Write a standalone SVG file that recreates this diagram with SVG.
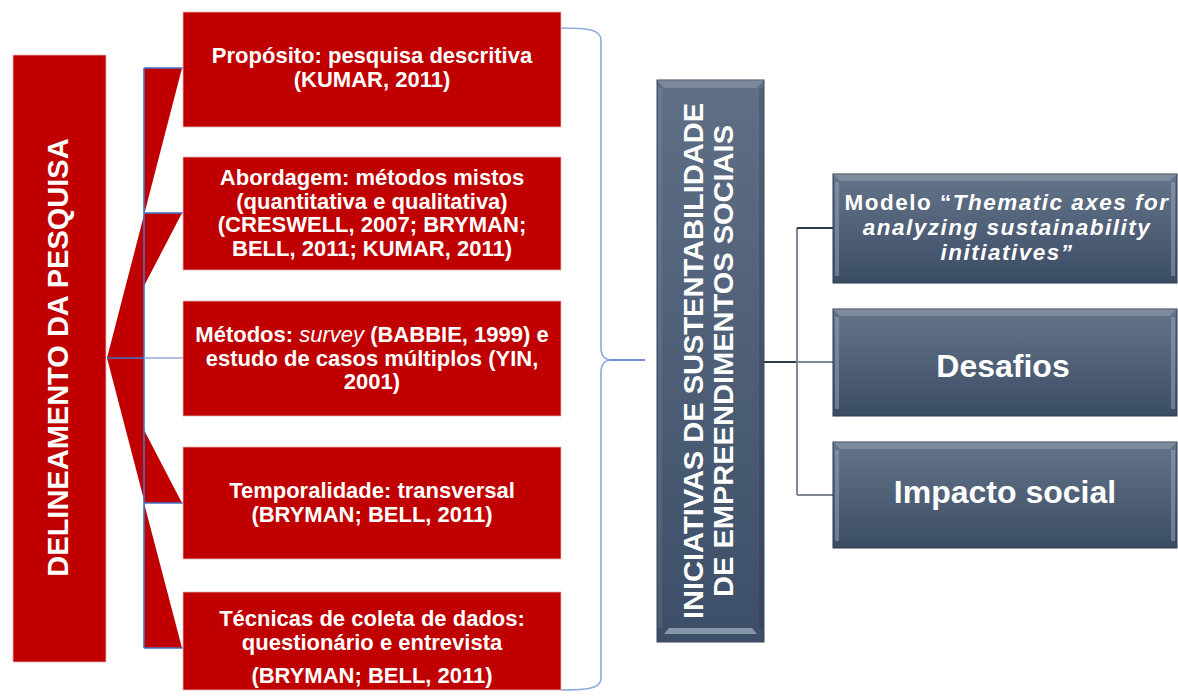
<svg xmlns="http://www.w3.org/2000/svg" width="1178" height="700" viewBox="0 0 1178 700">
<defs>
<linearGradient id="slate" x1="0" y1="0" x2="0" y2="1">
<stop offset="0" stop-color="#64748A"/>
<stop offset="1" stop-color="#3B4C65"/>
</linearGradient>
<linearGradient id="slateV" x1="0" y1="0" x2="0" y2="1">
<stop offset="0" stop-color="#5F6F86"/>
<stop offset="1" stop-color="#3D4E68"/>
</linearGradient>
<style>
.red{fill:#C00000;stroke:#E9B3B3;stroke-width:0.8}
.rt{font-family:"Liberation Sans",Arial,sans-serif;font-weight:bold;font-size:22px;fill:#fff;text-anchor:middle}
.bt{font-family:"Liberation Sans",Arial,sans-serif;font-weight:bold;fill:#fff;text-anchor:middle}
.wedge{fill:#C00000}
.bl{stroke:#4472C4;stroke-width:1.6;fill:none}
.bll{stroke:#8FAADC;stroke-width:1.6;fill:none}
.dk{fill:url(#slate);stroke:#2F3B4C;stroke-width:1}
.hl{fill:#fff;opacity:0.18}
</style>
</defs>
<rect width="1178" height="700" fill="#fff"/>

<g id="left-box">
<rect class="red" x="13" y="55" width="93" height="607"/>
<text class="bt" font-size="29" transform="translate(68,357.5) rotate(-90)">DELINEAMENTO DA PESQUISA</text>
</g>

<g id="connectors">
<polygon class="wedge" points="144,68 182,68 144,215"/>
<polygon class="wedge" points="144,213 182,213 144,286"/>
<polygon class="wedge" points="107,358 144,358 144,215"/>
<polygon class="wedge" points="107,358 144,358 144,500"/>
<polygon class="wedge" points="144,430 182,503 144,503"/>
<polygon class="wedge" points="144,503 182,648 144,648"/>
<path class="bl" d="M144,68 V648 M144,68 H183 M144,213 H183 M144,503 H183 M144,648 H183 M107,358 H144"/>
<path class="bll" d="M144,358 H183"/>
<path class="bll" d="M561,28 C590,28 601,30 601,40 L601,348 C601,356 605,360 612,360 C605,360 601,364 601,372 L601,678 C601,688 590,690 561,690"/>
<path d="M610,360 H645" stroke="#6F93D0" stroke-width="2" fill="none"/>
<path d="M764,362 H797" stroke="#2E3B4D" stroke-width="2" fill="none"/>
<path d="M797,228 V495" stroke="#7F8896" stroke-width="2" fill="none"/>
<path d="M797,228 H833" stroke="#2E3B4D" stroke-width="2" fill="none"/>
<path d="M797,362 H833 M797,495 H833" stroke="#7F8896" stroke-width="2" fill="none"/>
</g>

<g id="box1">
<rect class="red" x="183" y="12" width="378" height="115"/>
<text class="rt" x="372" y="63">Propósito: pesquisa descritiva</text>
<text class="rt" x="372" y="86.5">(KUMAR, 2011)</text>
</g>
<g id="box2">
<rect class="red" x="183" y="157" width="378" height="113"/>
<text class="rt" x="372" y="185">Abordagem: métodos mistos</text>
<text class="rt" x="372" y="208.5">(quantitativa e qualitativa)</text>
<text class="rt" x="372" y="232">(CRESWELL, 2007; BRYMAN;</text>
<text class="rt" x="372" y="255.5">BELL, 2011; KUMAR, 2011)</text>
</g>
<g id="box3">
<rect class="red" x="183" y="301" width="378" height="115"/>
<text class="rt" x="372" y="342">Métodos: <tspan font-style="italic" font-weight="normal">survey</tspan> (BABBIE, 1999) e</text>
<text class="rt" x="372" y="365.5">estudo de casos múltiplos (YIN,</text>
<text class="rt" x="372" y="389">2001)</text>
</g>
<g id="box4">
<rect class="red" x="183" y="447" width="378" height="112"/>
<text class="rt" x="372" y="498">Temporalidade: transversal</text>
<text class="rt" x="372" y="522">(BRYMAN; BELL, 2011)</text>
</g>
<g id="box5">
<rect class="red" x="183" y="592" width="378" height="98"/>
<text class="rt" x="372" y="626">Técnicas de coleta de dados:</text>
<text class="rt" x="372" y="649.5">questionário e entrevista</text>
<text class="rt" x="372" y="683">(BRYMAN; BELL, 2011)</text>
</g>

<g id="center-box">
<rect x="657" y="80" width="107" height="562" fill="url(#slateV)" stroke="#3A4658" stroke-width="1"/>
<polygon class="hl" points="657,80 764,80 757,88 664,88"/>
<rect x="658" y="88" width="4" height="540" fill="#fff" opacity="0.08"/>
<rect x="759" y="88" width="4" height="540" fill="#000" opacity="0.12"/>
<polygon points="664,634 757,634 752,628 669,628" fill="#9AA8BC" opacity="0.8"/>
<text class="bt" font-size="28" textLength="516" lengthAdjust="spacingAndGlyphs" transform="translate(703,361) rotate(-90)">INICIATIVAS DE SUSTENTABILIDADE</text>
<text class="bt" font-size="28" textLength="472" lengthAdjust="spacingAndGlyphs" transform="translate(733,361) rotate(-90)">DE EMPREENDIMENTOS SOCIAIS</text>
</g>

<g id="box-modelo">
<rect class="dk" x="833" y="174" width="344" height="109"/>
<polygon class="hl" points="833,174 1177,174 1170,181 840,181"/>
<rect x="835" y="182" width="4" height="94" fill="#9AA8BC" opacity="0.5"/>
<rect x="1171" y="182" width="4" height="94" fill="#9AA8BC" opacity="0.5"/>
<text class="bt" font-size="22.5" letter-spacing="1.5" x="1007" y="210">Modelo “<tspan font-style="italic">Thematic axes for</tspan></text>
<text class="bt" font-size="22.5" letter-spacing="1.5" font-style="italic" x="1007" y="235">analyzing sustainability</text>
<text class="bt" font-size="22.5" letter-spacing="1.5" font-style="italic" x="1007" y="260">initiatives”</text>
</g>
<g id="box-desafios">
<rect class="dk" x="833" y="309" width="344" height="107"/>
<polygon class="hl" points="833,309 1177,309 1170,316 840,316"/>
<rect x="835" y="317" width="4" height="92" fill="#9AA8BC" opacity="0.5"/>
<rect x="1171" y="317" width="4" height="92" fill="#9AA8BC" opacity="0.5"/>
<text class="bt" font-size="32" x="1003" y="377">Desafios</text>
</g>
<g id="box-impacto">
<rect class="dk" x="833" y="442" width="344" height="106"/>
<polygon class="hl" points="833,442 1177,442 1170,449 840,449"/>
<rect x="835" y="450" width="4" height="91" fill="#9AA8BC" opacity="0.5"/>
<rect x="1171" y="450" width="4" height="91" fill="#9AA8BC" opacity="0.5"/>
<text class="bt" font-size="32" x="1005" y="503">Impacto social</text>
</g>
</svg>
